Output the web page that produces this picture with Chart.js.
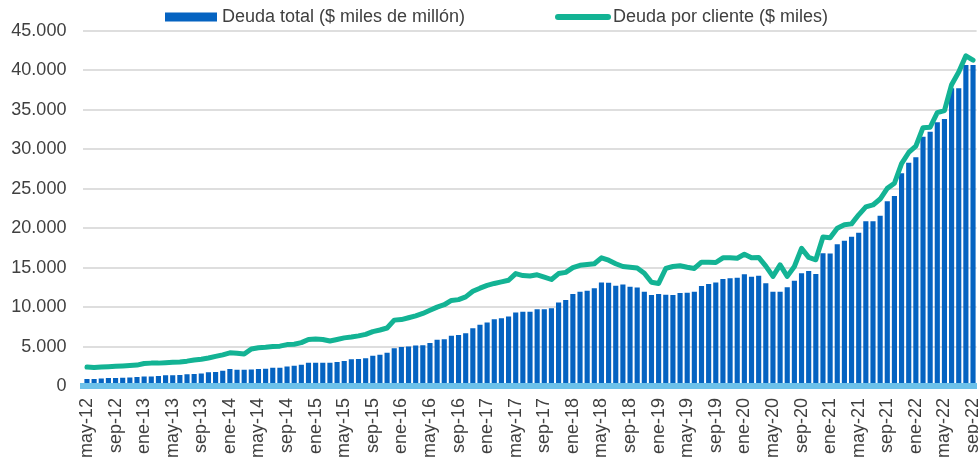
<!DOCTYPE html>
<html lang="es">
<head>
<meta charset="utf-8">
<script src="https://cdn.jsdelivr.net/npm/chart.js@4.4.1/dist/chart.umd.min.js"></script>
<style>
  html, body { margin: 0; padding: 0; background: #ffffff; }
  #wrap { position: relative; width: 978px; height: 461px; }
</style>
</head>
<body>
<div id="wrap"><canvas id="chart" role="img" aria-label="Deuda total y deuda por cliente, may-12 a sep-22"></canvas></div>
<script>
// meses en español, serie mensual desde may-12 hasta sep-22
const monthNames = ['ene', 'feb', 'mar', 'abr', 'may', 'jun', 'jul', 'ago', 'sep', 'oct', 'nov', 'dic'];
const firstYear = 12;
const firstMonth = 4; // may
const monthCount = 125;

const yTicks = [0, 5000, 10000, 15000, 20000, 25000, 30000, 35000, 40000, 45000];

const seriesLabels = ['Deuda total ($ miles de millón)', 'Deuda por cliente ($ miles)'];

// Deuda total ($ miles de millón)
const deudaTotal = [
  900, 900, 950, 1000, 1000, 1060, 1080, 1140, 1220, 1220, 1270, 1350,
  1350, 1400, 1480, 1520, 1600, 1730, 1770, 1930, 2140, 2050, 2050, 2090,
  2140, 2180, 2300, 2300, 2470, 2560, 2690, 2940, 2940, 2940, 2950, 3050,
  3170, 3380, 3430, 3520, 3830, 3950, 4220, 4800, 4930, 5010, 5130, 5180,
  5440, 5850, 5930, 6360, 6480, 6700, 7330, 7760, 8040, 8460, 8590, 8800,
  9310, 9400, 9400, 9720, 9720, 9850, 10570, 10900, 11660, 11950, 12080, 12380,
  13130, 13090, 12710, 12880, 12590, 12500, 11950, 11540, 11660, 11580, 11540, 11790,
  11830, 11950, 12680, 12930, 13130, 13560, 13650, 13730, 14160, 13860, 13980, 13010,
  11950, 11950, 12510, 13350, 14280, 14580, 14200, 16820, 16780, 17960, 18420, 18930,
  19430, 20870, 20870, 21570, 23410, 24080, 26960, 28310, 28990, 31600, 32240, 33430,
  33840, 37740, 37740, 40690, 40690
];

// Deuda por cliente ($ miles)
const deudaCliente = [
  2400, 2350, 2400, 2450, 2500, 2550, 2600, 2650, 2850, 2900, 2900, 2950,
  3000, 3050, 3150, 3300, 3400, 3550, 3750, 3950, 4200, 4150, 4050, 4700,
  4850, 4900, 5000, 5050, 5250, 5300, 5500, 5900, 5950, 5900, 5700, 5900,
  6100, 6200, 6350, 6550, 6900, 7100, 7350, 8350, 8420, 8650, 8900, 9200,
  9600, 10000, 10300, 10850, 10950, 11300, 12000, 12400, 12750, 13000, 13200, 13400,
  14250, 14000, 13950, 14100, 13800, 13500, 14250, 14400, 15000, 15300, 15400, 15500,
  16250, 15950, 15500, 15150, 15050, 14950, 14300, 13150, 13000, 14900, 15150, 15250,
  15050, 14900, 15700, 15700, 15650, 16250, 16250, 16200, 16700, 16250, 16300, 15200,
  13900, 15350, 13900, 15150, 17450, 16300, 16000, 18900, 18800, 20000, 20450, 20550,
  21700, 22700, 22950, 23700, 25050, 25700, 28200, 29600, 30400, 32750, 32800, 34650,
  34900, 38200, 39800, 41850, 41300
];

const colors = {
  bar: '#0563c1',
  line: '#13b394',
  axis: '#6cc1ea',
  grid: '#dedede',
  text: '#404040'
};

const fontFamily = '"Liberation Sans", Arial, sans-serif';

function buildCategories() {
  const out = [];
  for (let i = 0; i < monthCount; i++) {
    const m = (firstMonth + i) % 12;
    const y = firstYear + Math.floor((firstMonth + i) / 12);
    out.push(`${monthNames[m]}-${String(y).padStart(2, '0')}`);
  }
  return out;
}

function thousands(value) {
  return String(value).replace(/\B(?=(\d{3})+(?!\d))/g, '.');
}

const categories = buildCategories();

// leyenda dibujada a mano: caja azul y trazo verde con extremos redondos
const topLegend = {
  id: 'topLegend',
  afterDraw(chart) {
    const { ctx } = chart;
    const midY = 17;
    ctx.save();
    ctx.font = `18px ${fontFamily}`;
    ctx.textBaseline = 'middle';
    ctx.textAlign = 'left';

    let x = 165;
    ctx.fillStyle = colors.bar;
    ctx.fillRect(x, midY - 4.5, 52, 9);
    x += 57;
    ctx.fillStyle = colors.text;
    ctx.fillText(seriesLabels[0], x, midY);

    x = 558;
    ctx.strokeStyle = colors.line;
    ctx.lineWidth = 6;
    ctx.lineCap = 'round';
    ctx.beginPath();
    ctx.moveTo(x, midY);
    ctx.lineTo(x + 50, midY);
    ctx.stroke();
    ctx.fillStyle = colors.text;
    ctx.fillText(seriesLabels[1], x + 55, midY);
    ctx.restore();
  }
};

const ctx = document.getElementById('chart').getContext('2d');

new Chart(ctx, {
  type: 'bar',
  data: {
    labels: categories,
    datasets: [
      {
        type: 'line',
        label: seriesLabels[1],
        data: deudaCliente,
        borderColor: colors.line,
        backgroundColor: colors.line,
        borderWidth: 5,
        pointRadius: 0,
        tension: 0,
        borderJoinStyle: 'round',
        borderCapStyle: 'round',
        fill: false,
        order: 0
      },
      {
        type: 'bar',
        label: seriesLabels[0],
        data: deudaTotal,
        backgroundColor: colors.bar,
        borderWidth: 0,
        barPercentage: 0.72,
        categoryPercentage: 1,
        order: 1
      }
    ]
  },
  options: {
    responsive: true,
    maintainAspectRatio: false,
    animation: false,
    devicePixelRatio: 1,
    layout: { padding: { top: 31, right: 1.4, bottom: 0, left: 0 } },
    plugins: {
      legend: { display: false },
      tooltip: { enabled: false }
    },
    scales: {
      x: {
        offset: true,
        grid: { display: false, drawTicks: false },
        border: { display: true, color: colors.axis, width: 6, z: 1 },
        ticks: {
          autoSkip: false,
          minRotation: 90,
          maxRotation: 90,
          padding: 12,
          color: colors.text,
          font: { family: fontFamily, size: 18 },
          callback: (value, index) => (index % 4 === 0 ? categories[index] : '')
        },
        afterFit: (scale) => {
          scale.height = 75;
          scale.paddingLeft = 0;
          scale.paddingRight = 0;
        }
      },
      y: {
        min: yTicks[0],
        max: yTicks[yTicks.length - 1],
        grid: { color: colors.grid, lineWidth: 2, drawTicks: false },
        border: { display: false },
        ticks: {
          stepSize: yTicks[1] - yTicks[0],
          padding: 17,
          color: colors.text,
          font: { family: fontFamily, size: 18 },
          callback: (value) => thousands(value)
        },
        afterFit: (scale) => {
          scale.width = 83.4;
        }
      }
    }
  },
  plugins: [topLegend]
});
</script>
</body>
</html>
